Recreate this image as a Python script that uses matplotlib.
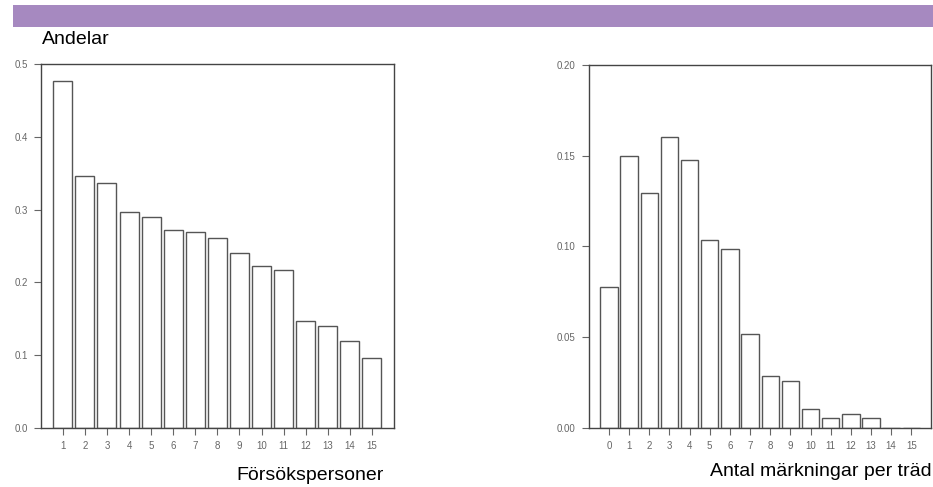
import numpy as np
import matplotlib.pyplot as plt
from matplotlib.patches import Rectangle

plt.rcParams['font.family'] = ['Liberation Sans', 'DejaVu Sans']

# Vänster diagram: andel per försöksperson
persons = list(range(1, 16))
person_shares = [0.476, 0.346, 0.336, 0.297, 0.290, 0.272, 0.269, 0.261,
                 0.241, 0.222, 0.217, 0.147, 0.140, 0.119, 0.096]

# Höger diagram: antal märkningar per träd
marks = list(range(0, 16))
mark_shares = [0.0775, 0.1498, 0.1292, 0.1600, 0.1474, 0.1034, 0.0983, 0.0517,
               0.0286, 0.0258, 0.0104, 0.0053, 0.0077, 0.0053, 0.0, 0.0]

left_yticks = [0.0, 0.1, 0.2, 0.3, 0.4, 0.5]
right_yticks = [0.00, 0.05, 0.10, 0.15, 0.20]

W, H = 933, 487
fig = plt.figure(figsize=(W / 100, H / 100), dpi=100)

# lila band överst
fig.patches.append(Rectangle((13 / W, 1 - 26.5 / H), 1 - 13 / W, 21.5 / H,
                             transform=fig.transFigure, facecolor='#a689c0',
                             edgecolor='none'))
fig.text(42 / W, 1 - 40 / H, 'Andelar', fontsize=14, va='center', ha='left')

edge = '#555555'
tick_col = '#666666'


def style(ax):
    for s in ax.spines.values():
        s.set_color('#444444')
        s.set_linewidth(1.0)
    ax.tick_params(axis='both', direction='out', length=5, width=0.8,
                   color=tick_col, labelcolor=tick_col, labelsize=7, pad=4.5)


# vänster
ax1 = fig.add_axes([40.7 / W, 1 - 428 / H, 353.3 / W, 364 / H])
ax1.bar(persons, person_shares, width=0.86, facecolor='white',
        edgecolor=edge, linewidth=1.0)
ax1.set_xlim(0, 16)
ax1.set_ylim(0, 0.5)
ax1.set_xticks(persons)
ax1.set_yticks(left_yticks)
ax1.set_yticklabels([f'{v:.1f}' for v in left_yticks])
style(ax1)
fig.text(310 / W, 1 - 476 / H, 'Försökspersoner', fontsize=14,
         ha='center', va='center')

# höger
ax2 = fig.add_axes([588.7 / W, 1 - 428 / H, (931.5 - 588.7) / W, 363.3 / H])
ax2.bar(marks, mark_shares, width=0.86, facecolor='white',
        edgecolor=edge, linewidth=1.0)
ax2.set_xlim(-1, 16)
ax2.set_ylim(0, 0.20)
ax2.set_xticks(marks)
ax2.set_yticks(right_yticks)
ax2.set_yticklabels([f'{v:.2f}' for v in right_yticks])
style(ax2)
fig.text(932 / W, 1 - 471 / H, 'Antal märkningar per träd', fontsize=14,
         ha='right', va='center')

fig.savefig('out.png', dpi=100)
